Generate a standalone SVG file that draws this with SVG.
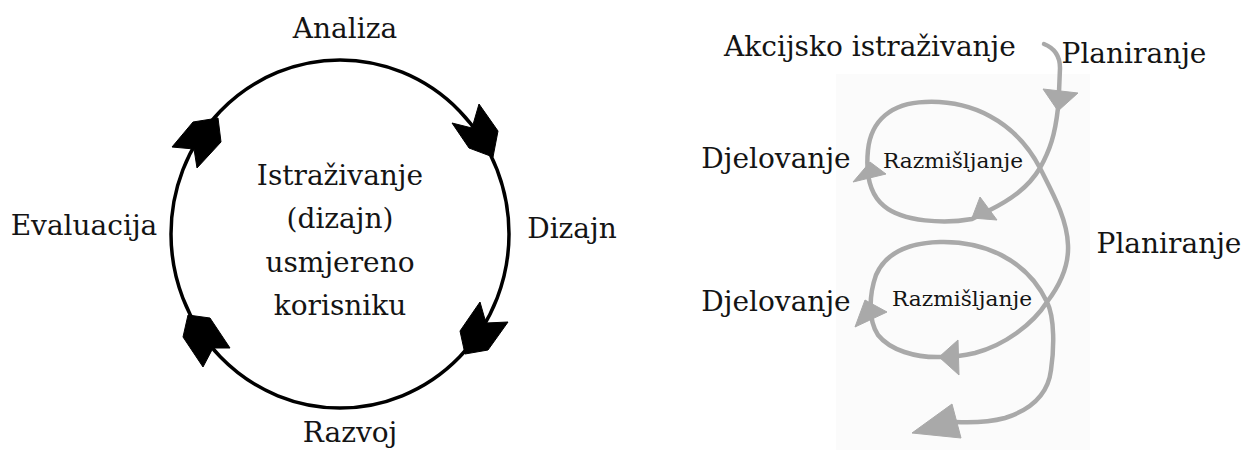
<svg xmlns="http://www.w3.org/2000/svg" width="1245" height="450" viewBox="0 0 1245 450">
  <style>
    .lbl { font-family: "DejaVu Serif", "Liberation Serif", serif; font-size: 28px; fill: #141414; text-anchor: middle; }
    .sm { font-family: "DejaVu Serif", "Liberation Serif", serif; font-size: 21px; fill: #141414; text-anchor: middle; }
    .ring { fill: none; stroke: #000; stroke-width: 3.5; }
    .head { fill: #000; stroke: #000; stroke-width: 1; stroke-linejoin: round; }
    .sp { fill: none; stroke: #a9a9a9; stroke-width: 4.5; stroke-linecap: round; stroke-linejoin: round; }
    .sph { fill: #a9a9a9; stroke: #a9a9a9; stroke-width: 1; stroke-linejoin: round; }
  </style>
  <rect x="0" y="0" width="1245" height="450" fill="#ffffff"/>
  <rect x="836" y="74" width="254" height="376" fill="#fbfbfb"/>

  <!-- Left diagram: user-centred design cycle -->
  <g id="cycle-ring">
    <ellipse class="ring" cx="340" cy="234" rx="169" ry="174"/>
  </g>
  <g id="connectors">
    <polygon class="head" points="479,104 498,131 493,157 469,148 452,123 472,128"/>
    <polygon class="head" points="480,302 486,323 508,322 488,350 465,354 460,331"/>
    <polygon class="head" points="188,315 210,318 230,348 213,348 203,367 183,337"/>
    <polygon class="head" points="172,147 193,122 218,118 221,142 197,168 194,149"/>

    <!-- Spiral -->
    <path class="sp" d="M1044,44 C1054,48 1060,56 1060,68 L1059,92"/>
    <path class="sp" d="M1058,108 C1055,135 1050,150 1040,168 C1028,188 1010,200 990,210 L972,219
      C945,224 903,222 884,206 C868,193 866,170 868,150 C871,120 892,103 925,102
      C970,100 1015,120 1040,168 C1052,192 1067,218 1068,245 C1069,266 1060,285 1047,302
      C1033,324 1005,345 975,353 C962,356 952,357 942,357
      C915,358 890,350 878,335 C868,320 869,295 876,275 C885,254 906,243 940,242
      C982,241 1026,258 1047,302 C1055,318 1054,350 1051,370 C1048,395 1030,410 1005,418
      C990,422 975,423 955,422"/>
    <polygon class="sph" points="1043,89 1078,93 1058,111"/>
    <polygon class="sph" points="980,197 997,220 972,218"/>
    <polygon class="sph" points="870,162 886,174 853,182"/>
    <polygon class="sph" points="958,340 959,375 939,357"/>
    <polygon class="sph" points="865,300 887,312 855,327"/>
    <polygon class="sph" points="952,404 961,438 912,433"/>
  </g>

  <g id="analiza"><text class="lbl" x="345" y="38">Analiza</text></g>
  <g id="dizajn"><text class="lbl" x="572" y="238">Dizajn</text></g>
  <g id="razvoj"><text class="lbl" x="350" y="442">Razvoj</text></g>
  <g id="evaluacija"><text class="lbl" x="84" y="235">Evaluacija</text></g>
  <g id="centar">
    <text class="lbl" x="340" y="185">Istraživanje</text>
    <text class="lbl" x="340" y="228">(dizajn)</text>
    <text class="lbl" x="340" y="272">usmjereno</text>
    <text class="lbl" x="340" y="315">korisniku</text>
  </g>

  <!-- Right diagram: action research spiral -->
  <g id="akcijsko"><text class="lbl" x="870" y="56">Akcijsko istraživanje</text></g>
  <g id="planiranje-1"><text class="lbl" x="1134" y="63">Planiranje</text></g>
  <g id="djelovanje-1"><text class="lbl" x="776" y="168">Djelovanje</text></g>
  <g id="razmisljanje-1"><text class="sm" x="953" y="168" textLength="140" lengthAdjust="spacingAndGlyphs">Razmišljanje</text></g>
  <g id="planiranje-2"><text class="lbl" x="1169" y="253">Planiranje</text></g>
  <g id="djelovanje-2"><text class="lbl" x="776" y="311">Djelovanje</text></g>
  <g id="razmisljanje-2"><text class="sm" x="962" y="306" textLength="140" lengthAdjust="spacingAndGlyphs">Razmišljanje</text></g>
</svg>
